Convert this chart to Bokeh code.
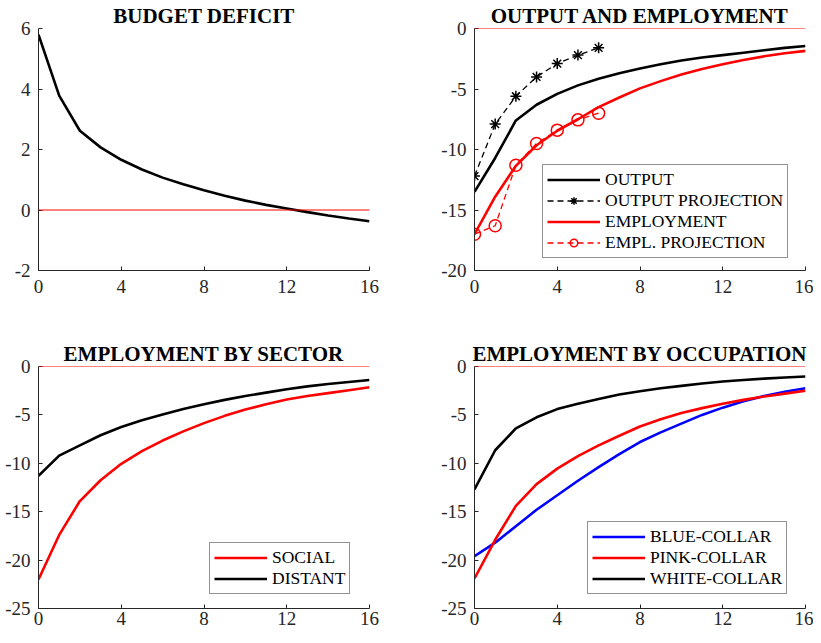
from bokeh.plotting import figure
from bokeh.layouts import gridplot
from bokeh.models import Range1d, Legend, LegendItem, FixedTicker, Span
from bokeh.embed import file_html
from bokeh.resources import INLINE

# ---------------- data ----------------
t = list(range(17))
t_proj = list(range(7))

budget_deficit = [5.80, 3.78, 2.62, 2.07, 1.66, 1.34, 1.07, 0.85, 0.65, 0.47, 0.31, 0.17, 0.05, -0.07, -0.18, -0.28, -0.37]

output = [-13.5, -10.7, -7.6, -6.3, -5.4, -4.7, -4.15, -3.7, -3.3, -2.95, -2.65, -2.4, -2.2, -2.0, -1.8, -1.6, -1.45]
output_proj = [-12.2, -7.9, -5.6, -4.0, -2.9, -2.2, -1.6]
employment = [-17.0, -13.9, -11.35, -9.65, -8.45, -7.5, -6.5, -5.7, -4.95, -4.35, -3.8, -3.35, -2.95, -2.6, -2.3, -2.05, -1.85]
empl_proj = [-17.0, -16.3, -11.3, -9.5, -8.4, -7.55, -7.0]

social = [-22.0, -17.4, -13.9, -11.75, -10.05, -8.75, -7.65, -6.7, -5.85, -5.1, -4.45, -3.9, -3.4, -3.05, -2.75, -2.45, -2.15]
distant = [-11.3, -9.2, -8.15, -7.1, -6.25, -5.55, -4.95, -4.4, -3.9, -3.45, -3.05, -2.7, -2.35, -2.05, -1.8, -1.6, -1.4]

blue_collar = [-19.6, -18.2, -16.5, -14.8, -13.3, -11.8, -10.4, -9.05, -7.8, -6.8, -5.9, -5.0, -4.25, -3.6, -3.05, -2.6, -2.25]
pink_collar = [-21.9, -17.9, -14.4, -12.15, -10.55, -9.25, -8.15, -7.15, -6.2, -5.45, -4.8, -4.3, -3.85, -3.45, -3.1, -2.8, -2.5]
white_collar = [-12.7, -8.65, -6.4, -5.25, -4.4, -3.85, -3.35, -2.9, -2.55, -2.25, -2.0, -1.75, -1.55, -1.4, -1.25, -1.13, -1.03]

x_ticks = [0, 4, 8, 12, 16]
y_ticks_deficit = [-2, 0, 2, 4, 6]
y_ticks_output = [-20, -15, -10, -5, 0]
y_ticks_empl = [-25, -20, -15, -10, -5, 0]
titles = ["BUDGET DEFICIT", "OUTPUT AND EMPLOYMENT", "EMPLOYMENT BY SECTOR", "EMPLOYMENT BY OCCUPATION"]

FONT = "Liberation Serif"
AXC = "#262626"
LW = 2.6


def make_fig(title, ylo, yhi, yticks, width, height, left, right, top, bottom, x_standoff):
    p = figure(width=width, height=height, output_backend="svg", toolbar_location=None,
               x_range=Range1d(0, 16), y_range=Range1d(ylo, yhi),
               min_border_left=left, min_border_right=right,
               min_border_top=top, min_border_bottom=bottom)
    p.title.text = title
    p.title.align = "center"
    p.title.text_font = FONT
    p.title.text_font_size = "21px"
    p.title.text_font_style = "bold"
    p.title.text_color = "black"
    p.title.standoff = 2
    p.title.offset = 0
    p.outline_line_color = None
    p.xgrid.visible = False
    p.ygrid.visible = False
    p.xaxis.ticker = FixedTicker(ticks=x_ticks)
    p.yaxis.ticker = FixedTicker(ticks=yticks)
    p.xaxis.major_label_overrides = {v: str(v) for v in x_ticks}
    p.yaxis.major_label_overrides = {v: str(v) for v in yticks}
    p.axis.axis_line_color = AXC
    p.axis.major_tick_line_color = AXC
    p.axis.major_tick_in = 4
    p.axis.major_tick_out = 0
    p.axis.minor_tick_line_color = None
    p.axis.major_label_text_font = FONT
    p.axis.major_label_text_font_size = "19px"
    p.axis.major_label_text_color = AXC
    p.xaxis.major_label_standoff = x_standoff
    p.yaxis.major_label_standoff = 8
    p.add_layout(Span(location=0, dimension="width", line_color="red", line_width=1))
    return p


def style_legend(leg):
    leg.label_text_font = FONT
    leg.label_text_font_size = "17.5px"
    leg.label_text_color = "black"
    leg.glyph_width = 53
    leg.glyph_height = 19
    leg.label_height = 19
    leg.label_standoff = 5
    leg.spacing = 0
    leg.padding = 4
    leg.margin = 0
    leg.border_line_color = AXC
    leg.border_line_width = 1
    leg.background_fill_color = "white"
    leg.background_fill_alpha = 1


# Panel 1
p1 = make_fig(titles[0], -2, 6, y_ticks_deficit, 429, 338, 38, 60, 28, 68, 9)
p1.line(t, budget_deficit, line_color="black", line_width=LW)

# Panel 2
p2 = make_fig(titles[1], -20, 0, y_ticks_output, 384, 338, 45, 8, 28, 68, 9)
r_out = p2.line(t, output, line_color="black", line_width=LW)
r_op_l = p2.line(t_proj, output_proj, line_color="black", line_width=1.3, line_dash="6 4")
r_op_m = p2.scatter(t_proj, output_proj, marker="asterisk", size=11, line_color="black", line_width=1.5)
r_emp = p2.line(t, employment, line_color="red", line_width=LW)
r_ep_l = p2.line(t_proj, empl_proj, line_color="red", line_width=1.3, line_dash="6 4")
r_ep_m = p2.scatter(t_proj, empl_proj, marker="circle", size=12, line_color="red", fill_color=None, line_width=1.5)
leg2 = Legend(items=[
    LegendItem(label="OUTPUT", renderers=[r_out]),
    LegendItem(label="OUTPUT PROJECTION", renderers=[r_op_l, r_op_m]),
    LegendItem(label="EMPLOYMENT", renderers=[r_emp]),
    LegendItem(label="EMPL. PROJECTION", renderers=[r_ep_l, r_ep_m]),
], location=(68, 12))
style_legend(leg2)
p2.add_layout(leg2)

# Panel 3
p3 = make_fig(titles[2], -25, 0, y_ticks_empl, 429, 294, 38, 60, 28, 24, 3)
r_soc = p3.line(t, social, line_color="red", line_width=LW)
r_dis = p3.line(t, distant, line_color="black", line_width=LW)
leg3 = Legend(items=[
    LegendItem(label="SOCIAL", renderers=[r_soc]),
    LegendItem(label="DISTANT", renderers=[r_dis]),
], location=(171, 14))
style_legend(leg3)
p3.add_layout(leg3)

# Panel 4
p4 = make_fig(titles[3], -25, 0, y_ticks_empl, 384, 294, 45, 8, 28, 24, 3)
r_bl = p4.line(t, blue_collar, line_color="blue", line_width=LW)
r_pk = p4.line(t, pink_collar, line_color="red", line_width=LW)
r_wh = p4.line(t, white_collar, line_color="black", line_width=LW)
leg4 = Legend(items=[
    LegendItem(label="BLUE-COLLAR", renderers=[r_bl]),
    LegendItem(label="PINK-COLLAR", renderers=[r_pk]),
    LegendItem(label="WHITE-COLLAR", renderers=[r_wh]),
], location=(113, 14))
style_legend(leg4)
p4.add_layout(leg4)

grid = gridplot([[p1, p2], [p3, p4]], toolbar_location=None)

open("out.html", "w").write(file_html(grid, INLINE))
